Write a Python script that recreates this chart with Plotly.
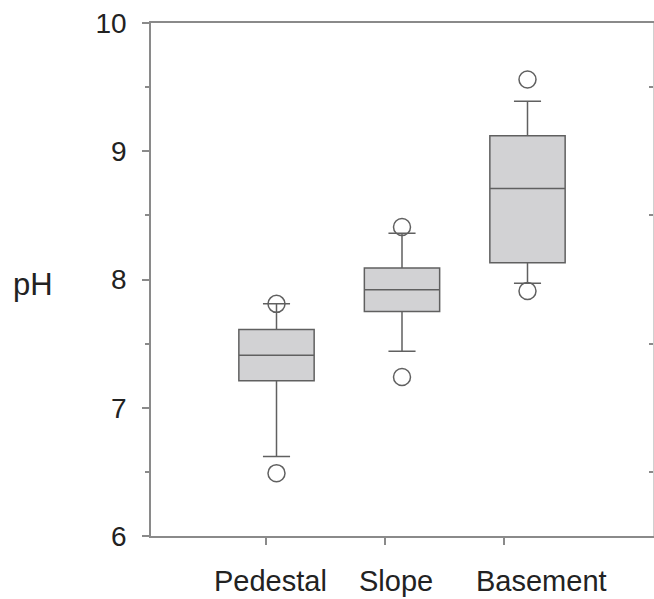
import plotly.graph_objects as go

categories = ["Pedestal", "Slope", "Basement"]
box_pos = [1, 2, 3]
q1 = [7.21, 7.75, 8.13]
median = [7.41, 7.92, 8.71]
q3 = [7.61, 8.09, 9.12]
lower_whisker = [6.62, 7.44, 7.97]
upper_whisker = [7.81, 8.36, 9.39]
outlier_x = [1, 1, 2, 2, 3, 3]
outlier_y = [7.81, 6.49, 8.41, 7.24, 9.56, 7.91]
tick_pos = [0.92, 1.865, 2.81]
label_pos = [0.95, 1.95, 3.11]
yticks = [6, 7, 8, 9, 10]

FONT = "Liberation Sans, Arial, sans-serif"
LINE = "#606060"
AX = "#8a8a8a"
XMAX = 4.0

fig = go.Figure()
fig.add_trace(go.Box(
    x=box_pos, q1=q1, median=median, q3=q3,
    lowerfence=lower_whisker, upperfence=upper_whisker,
    boxpoints=False, width=0.6, whiskerwidth=0.36,
    fillcolor="#d2d2d4", line=dict(color=LINE, width=1.5),
    showlegend=False, hoverinfo="skip"))
fig.add_trace(go.Scatter(
    x=outlier_x, y=outlier_y, mode="markers",
    marker=dict(symbol="circle-open", size=17, color=LINE, line=dict(width=1.5)),
    showlegend=False, hoverinfo="skip"))
fig.add_trace(go.Scatter(x=[None], y=[None], yaxis="y2", showlegend=False))

for lab, xp in zip(categories, label_pos):
    fig.add_annotation(x=xp / XMAX, y=(536 - 581) / 513, xref="paper", yref="paper",
                       text=lab, showarrow=False,
                       font=dict(size=29, color="#222", family=FONT),
                       xanchor="center", yanchor="middle")
fig.add_annotation(x=(33 - 151) / 502, y=(536 - 284) / 513, xref="paper", yref="paper",
                   text="pH", showarrow=False, xanchor="center", yanchor="middle",
                   font=dict(size=31, color="#222", family=FONT))

fig.update_layout(
    width=654, height=599,
    margin=dict(l=151, r=1, t=23, b=63, autoexpand=False),
    paper_bgcolor="white", plot_bgcolor="white",
    font=dict(family=FONT, size=28, color="#222"),
    xaxis=dict(range=[0, XMAX], showgrid=False, zeroline=False, automargin=False,
               showline=True, linecolor=AX, linewidth=1.5, mirror=True,
               tickvals=tick_pos, ticktext=["", "", ""],
               ticks="outside", ticklen=7, tickcolor=AX, tickwidth=1.5),
    yaxis=dict(range=[6, 10], showgrid=False, zeroline=False, automargin=False,
               showline=True, linecolor=AX, linewidth=1.5,
               tickvals=yticks, ticks="outside", ticklen=7, tickcolor=AX, tickwidth=1.5,
               ticklabelstandoff=10,
               tickfont=dict(size=28, color="#222", family=FONT),
               minor=dict(tickvals=[6.5, 7.5, 8.5, 9.5], ticks="outside", ticklen=4,
                          tickcolor=AX, tickwidth=1.5)),
    yaxis2=dict(range=[6, 10], overlaying="y", side="right", anchor="x", automargin=False,
                showgrid=False, zeroline=False, showline=True, linecolor="#d0d0d0",
                linewidth=1, tickvals=[6.5, 7.5, 8.5, 9.5], showticklabels=False,
                ticks="inside", ticklen=4, tickcolor=AX, tickwidth=1.5),
)

fig.write_html("out.html", config={"displayModeBar": False},
               post_script="document.body.style.margin='0px';document.body.style.overflow='hidden';")
